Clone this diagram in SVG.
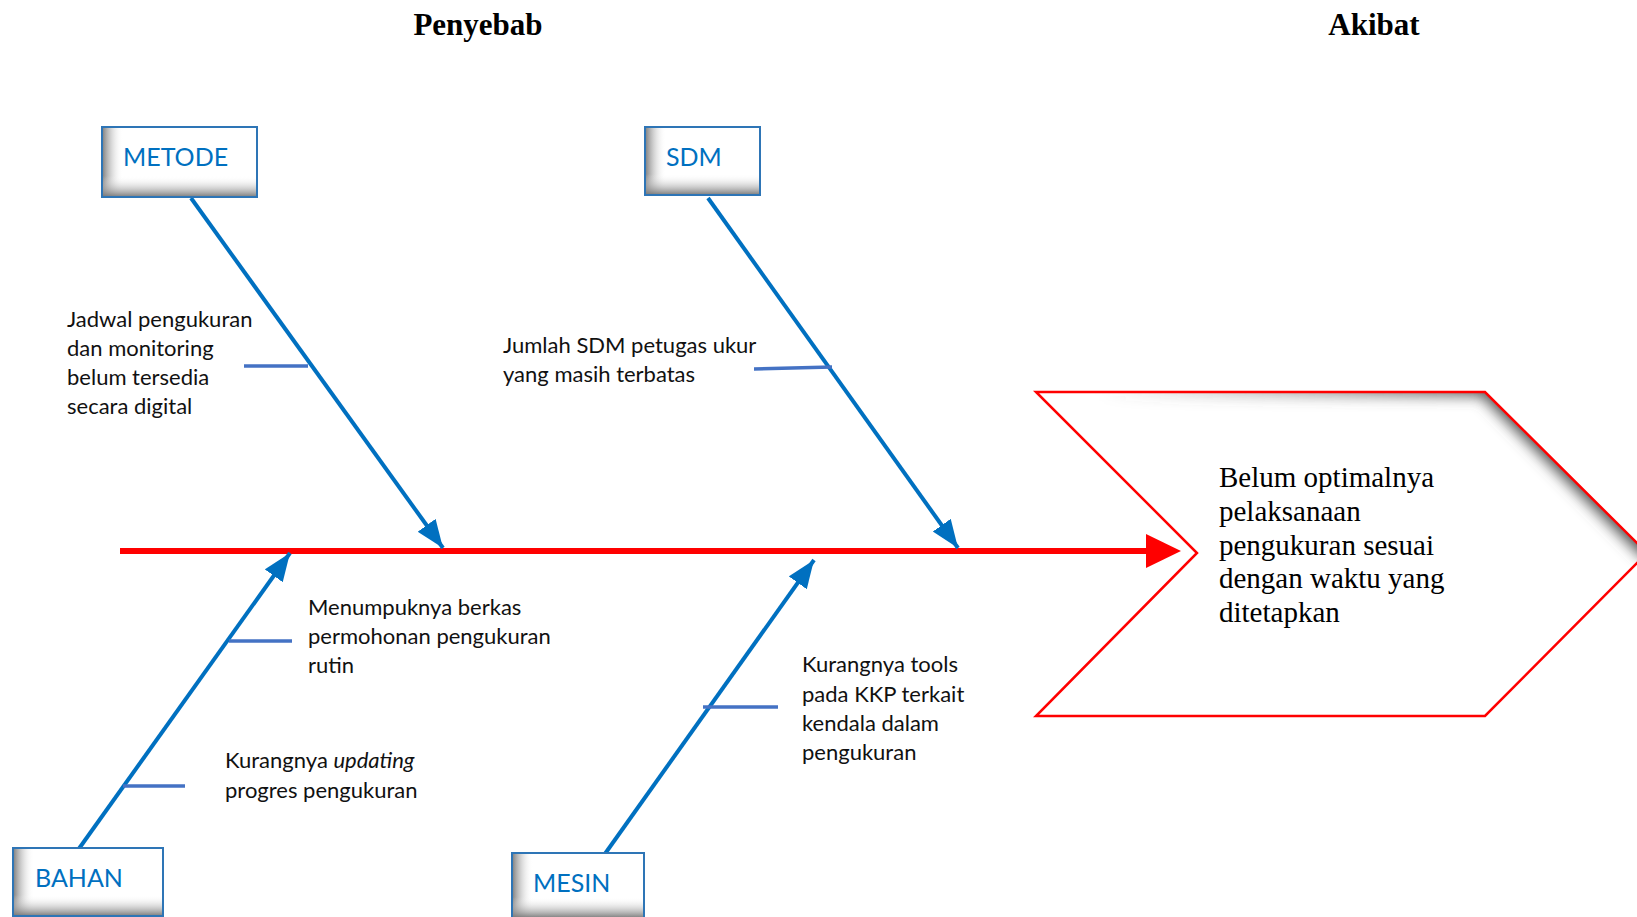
<svg xmlns="http://www.w3.org/2000/svg" width="1637" height="917" viewBox="0 0 1637 917">
<style>
.title{font-family:"Liberation Serif","Times New Roman",serif;font-weight:bold;font-size:31px;fill:#000;text-anchor:middle}
.box{fill:#fff}
.boxline{fill:none;stroke:#2E75B6;stroke-width:2}
.boxtxt{font-family:Lato,"Liberation Sans",sans-serif;font-size:25px;fill:#0070C0}
.lbl{font-family:Lato,"Liberation Sans",sans-serif;font-size:22px;fill:#111}
.bone{stroke:#0070C0;stroke-width:4;fill:none;marker-end:url(#ah)}
.tick{stroke:#4472C4;stroke-width:3.5;fill:none}
.eff{font-family:"Liberation Serif","Times New Roman",serif;font-size:29px;fill:#000}
</style>
<defs>
<marker id="ah" markerUnits="userSpaceOnUse" markerWidth="30" markerHeight="24" refX="28" refY="11" orient="auto">
<path d="M0,0 L28,11 L0,22 z" fill="#0070C0"/>
</marker>
<linearGradient id="gl" x1="0" y1="0" x2="1" y2="0">
<stop offset="0" stop-color="#7a7a7a" stop-opacity="0.9"/>
<stop offset="1" stop-color="#ffffff" stop-opacity="0"/>
</linearGradient>
<linearGradient id="gb" x1="0" y1="1" x2="0" y2="0">
<stop offset="0" stop-color="#7a7a7a" stop-opacity="0.9"/>
<stop offset="1" stop-color="#ffffff" stop-opacity="0"/>
</linearGradient>
<linearGradient id="gs" x1="1100" y1="0" x2="1500" y2="0" gradientUnits="userSpaceOnUse">
<stop offset="0" stop-color="#555" stop-opacity="0"/>
<stop offset="1" stop-color="#555" stop-opacity="1"/>
</linearGradient>
<clipPath id="chevclip">
<polygon points="1036,392 1485,392 1647,553 1485,716 1036,716 1197,553"/>
</clipPath>
<filter id="blur" x="-20%" y="-20%" width="140%" height="140%">
<feGaussianBlur stdDeviation="7"/>
</filter>
</defs>
<rect width="1637" height="917" fill="#fff"/>

<text class="title" x="478" y="35">Penyebab</text>
<text class="title" x="1374" y="35">Akibat</text>

<g id="effect">
<polygon points="1036,392 1485,392 1647,553 1485,716 1036,716 1197,553" fill="#fff"/>
<g clip-path="url(#chevclip)">
<polyline points="1100,386 1485,386 1652,553" fill="none" stroke="url(#gs)" stroke-width="20" filter="url(#blur)"/>
</g>
<polygon points="1036,392 1485,392 1647,553 1485,716 1036,716 1197,553" fill="none" stroke="#FF0000" stroke-width="2.5"/>
<text class="eff" x="1219" y="487">Belum optimalnya</text>
<text class="eff" x="1219" y="521">pelaksanaan</text>
<text class="eff" x="1219" y="555">pengukuran sesuai</text>
<text class="eff" x="1219" y="588">dengan waktu yang</text>
<text class="eff" x="1219" y="622">ditetapkan</text>
</g>

<g id="connectors">
<line x1="120" y1="551" x2="1150" y2="551" stroke="#FF0000" stroke-width="6"/>
<polygon points="1146,534 1181,551 1146,568" fill="#FF0000"/>
<line class="bone" x1="191" y1="198" x2="443" y2="548"/>
<line class="bone" x1="708" y1="198" x2="958" y2="548"/>
<line class="bone" x1="78" y1="850" x2="290" y2="553"/>
<line class="bone" x1="602" y1="858" x2="814" y2="560"/>
<line class="tick" x1="244" y1="366" x2="308" y2="366"/>
<line class="tick" x1="754" y1="369" x2="832" y2="367"/>
<line class="tick" x1="229" y1="641" x2="292" y2="641"/>
<line class="tick" x1="123" y1="786" x2="185" y2="786"/>
<line class="tick" x1="703" y1="707" x2="778" y2="707"/>
</g>

<g id="metode">
<rect class="box" x="102" y="127" width="155" height="70"/>
<rect x="103" y="128" width="20" height="68" fill="url(#gl)"/>
<rect x="103" y="176" width="153" height="20" fill="url(#gb)"/>
<rect class="boxline" x="102" y="127" width="155" height="70"/>
<text class="boxtxt" x="123" y="166">METODE</text>
</g>

<g id="sdm">
<rect class="box" x="645" y="127" width="115" height="68"/>
<rect x="646" y="128" width="20" height="66" fill="url(#gl)"/>
<rect x="646" y="174" width="113" height="20" fill="url(#gb)"/>
<rect class="boxline" x="645" y="127" width="115" height="68"/>
<text class="boxtxt" x="666" y="166">SDM</text>
</g>

<g id="bahan">
<rect class="box" x="13" y="848" width="150" height="68"/>
<rect x="14" y="849" width="20" height="66" fill="url(#gl)"/>
<rect x="14" y="895" width="148" height="20" fill="url(#gb)"/>
<rect class="boxline" x="13" y="848" width="150" height="68"/>
<text class="boxtxt" x="35" y="887">BAHAN</text>
</g>

<g id="mesin">
<rect class="box" x="512" y="853" width="132" height="68"/>
<rect x="513" y="854" width="20" height="66" fill="url(#gl)"/>
<rect x="513" y="897" width="130" height="20" fill="url(#gb)"/>
<rect class="boxline" x="512" y="853" width="132" height="68"/>
<text class="boxtxt" x="533" y="892">MESIN</text>
</g>

<g id="label-metode">
<text class="lbl" x="67" y="327">Jadwal pengukuran</text>
<text class="lbl" x="67" y="356">dan monitoring</text>
<text class="lbl" x="67" y="385">belum tersedia</text>
<text class="lbl" x="67" y="414">secara digital</text>
</g>
<g id="label-sdm">
<text class="lbl" x="503" y="353">Jumlah SDM petugas ukur</text>
<text class="lbl" x="503" y="382">yang masih terbatas</text>
</g>
<g id="label-bahan1">
<text class="lbl" x="308" y="615">Menumpuknya berkas</text>
<text class="lbl" x="308" y="644">permohonan pengukuran</text>
<text class="lbl" x="308" y="673">rutin</text>
</g>
<g id="label-bahan2">
<text class="lbl" x="225" y="768">Kurangnya <tspan font-style="italic">updating</tspan></text>
<text class="lbl" x="225" y="798">progres pengukuran</text>
</g>
<g id="label-mesin">
<text class="lbl" x="802" y="672">Kurangnya tools</text>
<text class="lbl" x="802" y="702">pada KKP terkait</text>
<text class="lbl" x="802" y="731">kendala dalam</text>
<text class="lbl" x="802" y="760">pengukuran</text>
</g>
</svg>
